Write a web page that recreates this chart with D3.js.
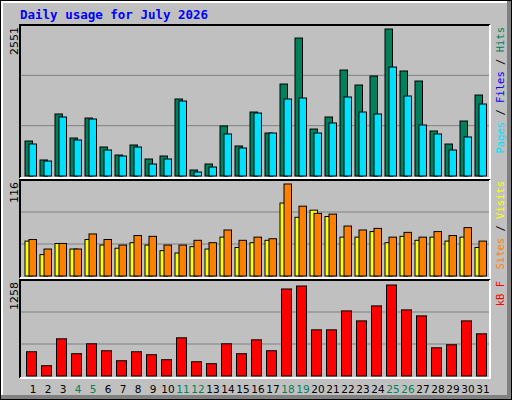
<!DOCTYPE html>
<html>
<head>
<meta charset="utf-8">
<script src="https://cdn.jsdelivr.net/npm/d3@7"></script>
<style>body{margin:0;background:#fff}</style>
</head>
<body>
<svg id="chart" width="512" height="400"></svg>
<script>
const days = d3.range(1, 32);
const weekends = [4, 5, 11, 12, 18, 19, 25, 26];
const hits = [607,278,1076,659,1006,503,364,538,295,347,1336,104,208,868,521,1110,746,1596,2394,815,1024,1839,1579,1735,2551,1822,1648,781,555,954,1405];
const pages = [555,260,1024,625,989,451,347,503,208,295,1301,69,156,729,486,1093,746,1336,1353,746,920,1371,1110,1076,1891,1388,885,729,451,677,1249];
const sites = [44,27,41,34,46,39,35,42,39,32,29,37,34,49,36,42,45,92,74,83,75,49,49,56,42,50,45,49,44,49,36];
const visits = [46,34,41,34,53,46,39,51,50,39,39,45,42,58,45,49,47,116,88,79,78,63,58,60,49,55,49,56,51,61,44];
const kbytes = [335,142,514,308,445,349,211,335,294,225,528,197,170,445,308,500,349,1203,1244,638,638,900,762,969,1258,914,831,390,432,762,583];
const maxLabels = ["2551", "116", "1258"];

const svg = d3.select("#chart");
const FONT = "DejaVu Sans Mono, monospace";

// frame
svg.append("rect").attr("x", 0).attr("y", 0).attr("width", 512).attr("height", 400).attr("fill", "#000");
svg.append("rect").attr("x", 1).attr("y", 1).attr("width", 510).attr("height", 398).attr("fill", "#808080");
svg.append("rect").attr("x", 1).attr("y", 1).attr("width", 506).attr("height", 394).attr("fill", "#fff");
svg.append("rect").attr("x", 3).attr("y", 3).attr("width", 504).attr("height", 392).attr("fill", "#c0c0c0");

svg.append("text").attr("x", 20).attr("y", 19)
    .attr("font-family", FONT).attr("font-weight", "bold").attr("font-size", 12.5)
    .attr("fill", "#0000ff").text("Daily usage for July 2026");

const x = d3.scaleBand().domain(days).range([20, 485]).paddingInner(0).paddingOuter(0);

const panels = [
    { top: 25, bottom: 178, base: 176, peak: 29, max: 2551, series: [[hits, "#00805c"], [pages, "#00e0ff"]] },
    { top: 180, bottom: 278, base: 276, peak: 184, max: 116, series: [[sites, "#ffff00"], [visits, "#ff8000"]] },
    { top: 280, bottom: 378, base: 376, peak: 285, max: 1258, series: [[kbytes, "#ff0000"]] }
];

panels.forEach((p, pi) => {
    const y = d3.scaleLinear().domain([0, p.max]).range([p.base, p.peak]);
    const g = svg.append("g");
    g.append("rect").attr("x", 20).attr("y", p.top).attr("width", 470).attr("height", p.bottom - p.top)
        .attr("fill", "#c0c0c0");
    // gridlines at thirds of the panel
    [1, 2].forEach(k => {
        const gy = p.top + (p.base - p.top) * k / 3;
        g.append("line").attr("x1", 20).attr("x2", 490).attr("y1", gy).attr("y2", gy)
            .attr("stroke", "#808080").attr("stroke-width", 1);
    });
    g.append("path").attr("d", `M20,${p.bottom}V${p.top}H490`).attr("fill", "none").attr("stroke", "#000").attr("stroke-width", 2);
    g.append("path").attr("d", `M20,${p.bottom}H490V${p.top}`).attr("fill", "none").attr("stroke", "#fff").attr("stroke-width", 2);

    p.series.forEach(([vals, col], si) => {
        const single = p.series.length === 1;
        g.selectAll(null).data(vals).enter().append("rect")
            .attr("x", (d, i) => x(days[i]) + (single ? 6.5 : 5 + si * 4))
            .attr("y", d => y(d))
            .attr("width", single ? 10 : 7.5)
            .attr("height", d => p.base - y(d))
            .attr("fill", col).attr("stroke", "#000").attr("stroke-width", 1);
    });

    svg.append("text")
        .attr("transform", `translate(18,${p.top + 2}) rotate(-90)`)
        .attr("text-anchor", "end").attr("font-family", "DejaVu Sans, sans-serif").attr("font-size", 11)
        .attr("fill", "#000").text(maxLabels[pi]);
});

// right legends
function legend(yPos, parts) {
    const t = svg.append("text")
        .attr("transform", `translate(504,${yPos}) rotate(-90)`)
        .attr("text-anchor", "end").attr("font-family", FONT).attr("font-size", 10.5);
    parts.forEach(([s, c]) => t.append("tspan").attr("fill", c).text(s));
}
legend(27, [["Pages", "#00e0ff"], [" / ", "#000"], ["Files", "#0000ff"], [" / ", "#000"], ["Hits", "#00805c"]]);
legend(181, [["Sites", "#ff8000"], [" / ", "#000"], ["Visits", "#ffff00"]]);
legend(281, [["kB F", "#ff0000"]]);

// day labels
svg.selectAll(".day").data(days).enter().append("text")
    .attr("x", d => x(d) + 13).attr("y", 393)
    .attr("text-anchor", "middle").attr("font-family", "DejaVu Sans, sans-serif").attr("font-size", 10.5)
    .attr("fill", d => weekends.includes(d) ? "#00805c" : "#000")
    .text(d => d);
</script>
</body>
</html>
